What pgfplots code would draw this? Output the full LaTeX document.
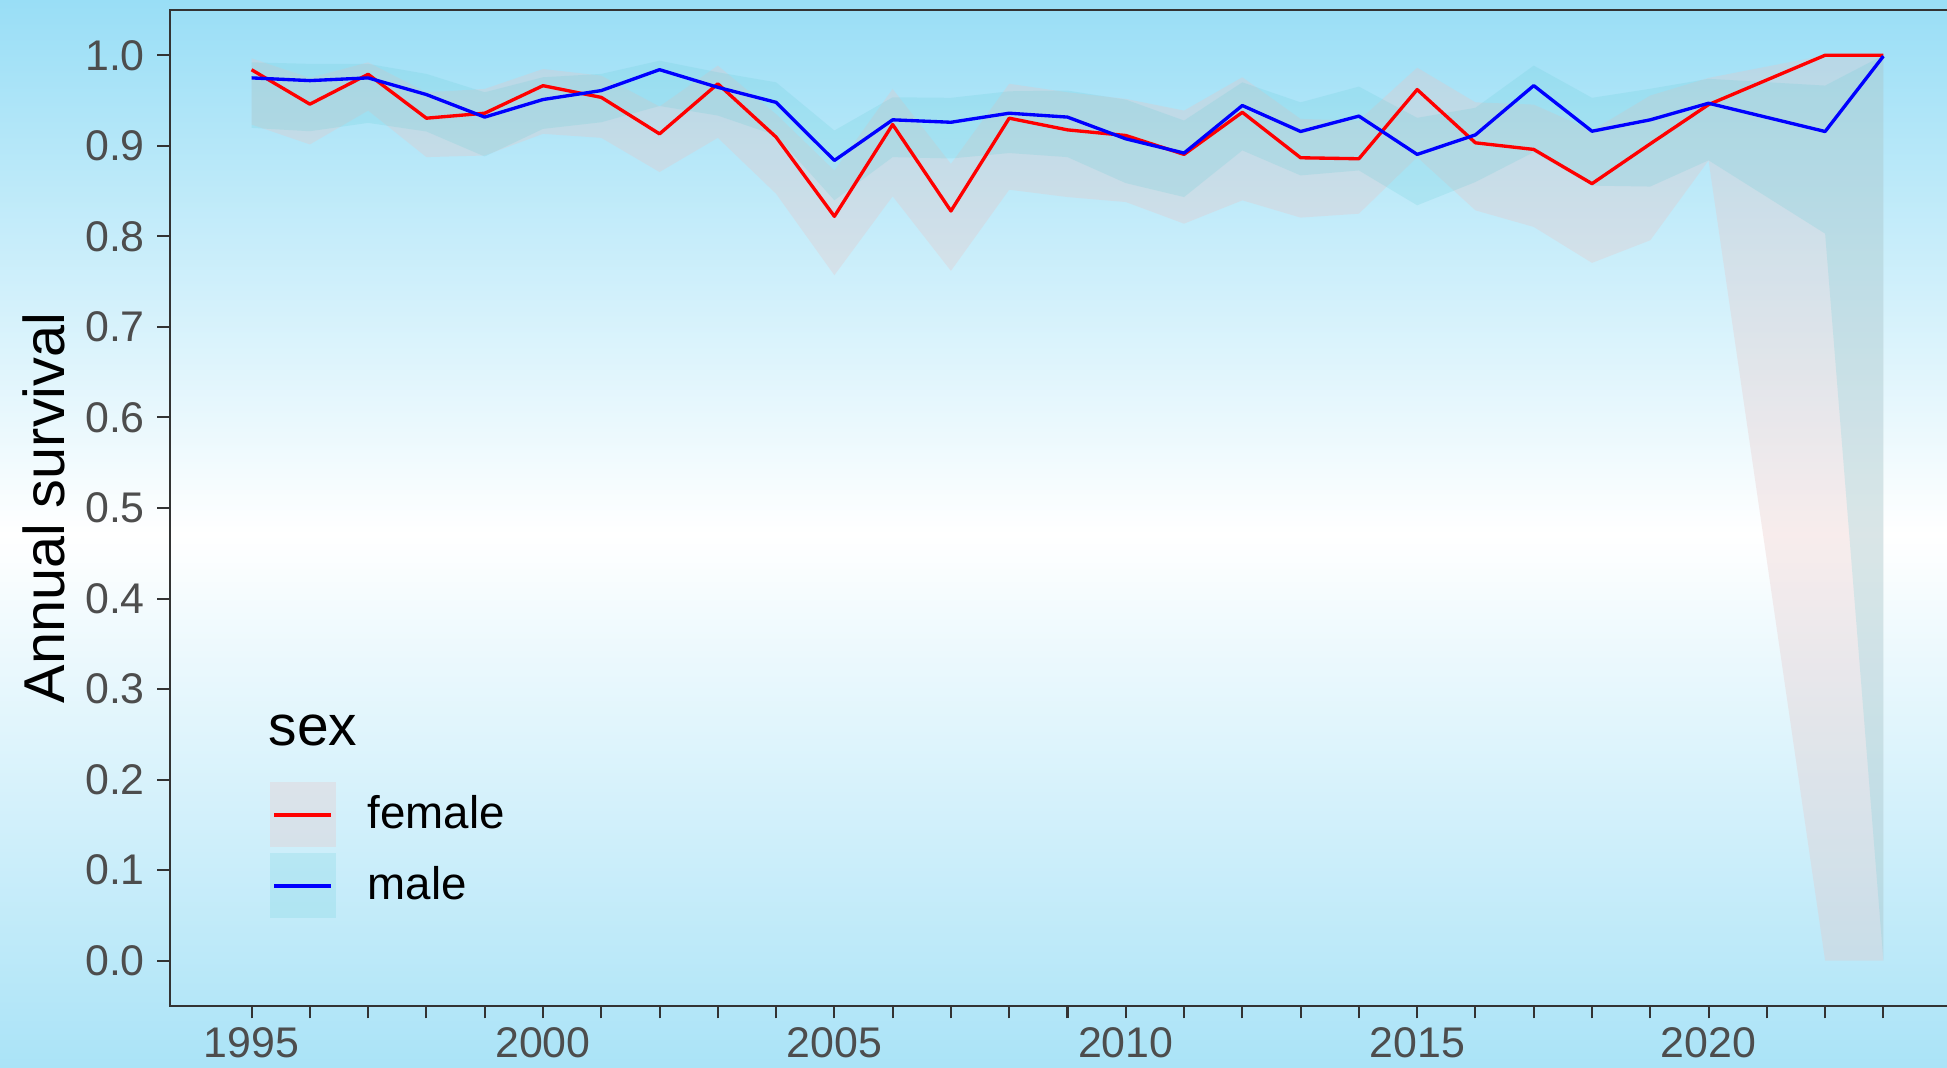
\documentclass[border=0pt]{standalone}
\usepackage{fontspec}
\setmainfont{Liberation Sans}
\usepackage{pgfplots}
\pgfplotsset{compat=1.18}
\usepackage{pgfplotstable}
\usepgfplotslibrary{fillbetween}

\definecolor{bgtop}{RGB}{153,222,246}
\definecolor{bgbot}{RGB}{170,227,247}
\definecolor{femfill}{RGB}{232,195,195}
\definecolor{malefill}{RGB}{100,205,215}
\definecolor{ticklab}{RGB}{77,77,77}
\definecolor{axline}{RGB}{51,51,51}

\pgfplotstableread{
year mean lo hi
1995 0.984 0.9235 0.9966
1996 0.946 0.9015 0.975
1997 0.979 0.9389 0.9922
1998 0.9305 0.8875 0.9591
1999 0.936 0.8893 0.9628
2000 0.9664 0.9132 0.9848
2001 0.9535 0.9088 0.9775
2002 0.9132 0.871 0.9434
2003 0.9685 0.9088 0.9886
2004 0.9096 0.847 0.935
2005 0.8221 0.7571 0.8728
2006 0.9235 0.8442 0.9628
2007 0.828 0.7619 0.8801
2008 0.9305 0.8515 0.9685
2009 0.9176 0.8434 0.9591
2010 0.9114 0.8379 0.9518
2011 0.8905 0.814 0.9389
2012 0.937 0.8398 0.9757
2013 0.8868 0.8207 0.9297
2014 0.8857 0.825 0.9279
2015 0.9621 0.8875 0.9863
2016 0.9033 0.8287 0.948
2017 0.896 0.8104 0.9455
2018 0.8582 0.7707 0.917
2019 0.9022 0.7957 0.9555
2020 0.9455 0.8838 0.975
2022 1.0 0.0 1.0
2023 1.0 0.0 1.0
}\female

\pgfplotstableread{
year mean lo hi
1995 0.975 0.9198 0.9922
1996 0.972 0.9161 0.9905
1997 0.975 0.9253 0.9905
1998 0.9566 0.9158 0.9794
1999 0.9317 0.8882 0.9591
2000 0.9511 0.9187 0.9757
2001 0.961 0.926 0.9794
2002 0.9841 0.944 0.994
2003 0.9646 0.9334 0.9812
2004 0.948 0.9114 0.9701
2005 0.8838 0.8398 0.9169
2006 0.9287 0.8875 0.9536
2007 0.926 0.886 0.953
2008 0.936 0.892 0.9602
2009 0.9317 0.8875 0.961
2010 0.9077 0.8588 0.951
2011 0.892 0.8434 0.9279
2012 0.9445 0.8949 0.9701
2013 0.9158 0.8673 0.948
2014 0.9328 0.8728 0.9654
2015 0.8905 0.8343 0.9309
2016 0.9121 0.86 0.942
2017 0.9665 0.893 0.9886
2018 0.9161 0.856 0.953
2019 0.9287 0.855 0.963
2020 0.947 0.884 0.974
2022 0.9158 0.803 0.9665
2023 0.999 0.0 1.0
}\male

\begin{document}
\begin{tikzpicture}
\pgfplotsset{set layers}
\begin{pgfonlayer}{axis background}
\shade[top color=bgtop, bottom color=bgbot, middle color=white] (-17mm,-6.2mm) rectangle (177.7mm,100.6mm);
\end{pgfonlayer}
\begin{axis}[
  at={(0,0)}, anchor=south west,
  scale only axis, width=179.5mm, height=99.6mm,
  xmin=1993.6, xmax=2024.4, ymin=-0.05, ymax=1.05,
  axis line style={axline, line width=0.57pt},
  tick style={axline, line width=0.57pt},
  tick align=outside, major tick length=1.25mm, minor tick length=1.25mm,
  xtick pos=lower, ytick pos=left,
  xtick={1995,2000,2005,2010,2015,2020},
  xticklabels={1995,2000,2005,2010,2015,2020},
  minor xtick={1996,1997,1998,1999,2001,2002,2003,2004,2006,2007,2008,2009,2011,2012,2013,2014,2016,2017,2018,2019,2021,2022,2023},
  ytick={0,0.1,0.2,0.3,0.4,0.5,0.6,0.7,0.8,0.9,1.0},
  yticklabels={0.0,0.1,0.2,0.3,0.4,0.5,0.6,0.7,0.8,0.9,1.0},
  ticklabel style={font=\fontsize{12.2}{14}\selectfont, text=ticklab},
  xticklabel style={inner sep=0pt, yshift=-0.8mm},
  yticklabel style={inner sep=0pt, xshift=-1.2mm},
  ylabel={Annual survival},
  every axis y label/.style={at={(axis description cs:-0.0586,0.5)}, rotate=90, anchor=base, inner sep=0pt, font=\fontsize{16.4}{19}\selectfont},
  legend style={at={(axis description cs:0.0552,0.2252)}, anchor=north west, draw=none, fill=none, inner sep=0pt, row sep=0.6mm, column sep=3.2mm, font=\fontsize{13}{15}\selectfont, nodes={inner sep=0pt}},
  legend cell align=left,
]
\addplot[name path=fhi, draw=none, forget plot] table[x=year,y=hi]{\female};
\addplot[name path=flo, draw=none, forget plot] table[x=year,y=lo]{\female};
\addplot[femfill, fill opacity=0.3, draw=none, forget plot] fill between[of=fhi and flo];
\addplot[name path=mhi, draw=none, forget plot] table[x=year,y=hi]{\male};
\addplot[name path=mlo, draw=none, forget plot] table[x=year,y=lo]{\male};
\addplot[malefill, fill opacity=0.2, draw=none, forget plot] fill between[of=mhi and mlo];
\addplot[red, line width=0.95pt, line join=round, forget plot] table[x=year,y=mean]{\female};
\addplot[blue, line width=0.95pt, line join=round, forget plot] table[x=year,y=mean]{\male};

\addlegendimage{legend image code/.code={\path[draw=none, fill=femfill, fill opacity=0.3] (0mm,-3.25mm) rectangle (6.6mm,3.25mm); \path[draw=red, line width=0.95pt] (0.45mm,0mm) -- (6.15mm,0mm);}}
\addlegendentry{female}
\addlegendimage{legend image code/.code={\path[draw=none, fill=malefill, fill opacity=0.2] (0mm,-3.25mm) rectangle (6.6mm,3.25mm); \path[draw=blue, line width=0.95pt] (0.45mm,0mm) -- (6.15mm,0mm);}}
\addlegendentry{male}

\node[anchor=base west, inner sep=0pt, font=\fontsize{16.2}{19}\selectfont] at (axis description cs:0.0546,0.262) {sex};
\end{axis}
\pgfresetboundingbox
\useasboundingbox (-17mm,-6.2mm) rectangle (177.7mm,100.6mm);
\end{tikzpicture}
\end{document}
